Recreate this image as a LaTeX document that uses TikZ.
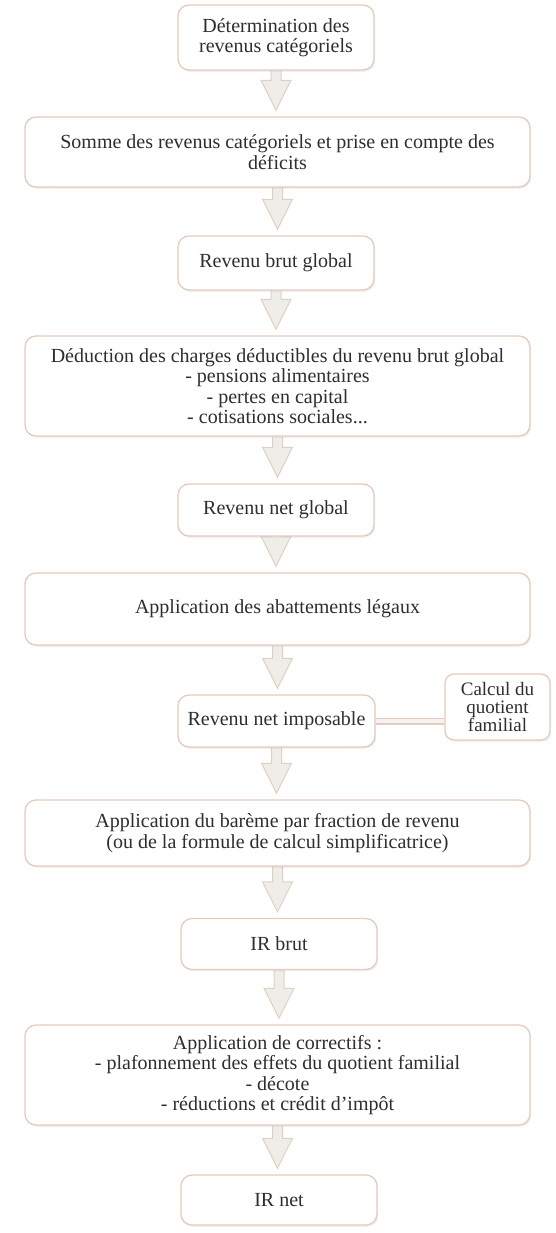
\documentclass[tikz,border=0pt]{standalone}
\usepackage{fontspec}
\setmainfont{Liberation Serif}
\usetikzlibrary{calc,backgrounds,shadows}
\definecolor{boxline}{HTML}{E3CBBE}
\definecolor{arrfill}{HTML}{EEEDE8}
\definecolor{arrline}{HTML}{E0D0C4}
\definecolor{linkfill}{HTML}{F6F2EF}
\definecolor{txt}{HTML}{2E2E2E}
\tikzset{
  flowbox/.style={draw=boxline, line width=1.3pt, rounded corners=11pt, fill=white,
    align=center, text=txt, font=\fontsize{20}{20.5}\selectfont, inner sep=1pt,
    drop shadow={opacity=0.12, shadow xshift=1.2pt, shadow yshift=-1.8pt}},
  blockarr/.style={draw=arrline, fill=arrfill, line width=1pt, line join=miter},
  linkline/.style={draw=boxline, line width=1.5pt, double=linkfill, double distance=4pt}
}
\newcommand\flowarrow[2]{%
  \draw[blockarr] let \p1=(#1.south), \p2=(#2.north) in
    (\x1-5pt,\y1) -- (\x1-5pt,\y2+36pt) -- (\x1-15pt,\y2+36pt) -- (\x1,\y2+6pt)
    -- (\x1+15pt,\y2+36pt) -- (\x1+5pt,\y2+36pt) -- (\x1+5pt,\y1);}
\begin{document}
\begin{tikzpicture}[x=1pt,y=-1pt]
\useasboundingbox (0,0) rectangle (556,1233);
\node[flowbox, minimum width=196pt, minimum height=65pt] (b1) at (276,37.5) {Détermination des\\revenus catégoriels};
\node[flowbox, minimum width=505pt, minimum height=70pt] (b2) at (277.5,152) {Somme des revenus catégoriels et prise en compte des\\déficits};
\node[flowbox, minimum width=196pt, minimum height=54pt] (b3) at (276,263) {Revenu brut global};
\node[flowbox, minimum width=505pt, minimum height=100pt] (b4) at (277.5,386) {Déduction des charges déductibles du revenu brut global\\- pensions alimentaires\\- pertes en capital\\- cotisations sociales...};
\node[flowbox, minimum width=196pt, minimum height=52pt] (b5) at (276,510) {Revenu net global};
\node[flowbox, minimum width=505pt, minimum height=72pt] (b6) at (277.5,609) {Application des abattements légaux};
\node[flowbox, minimum width=197pt, minimum height=52pt] (b7) at (276.5,721) {Revenu net imposable};
\node[flowbox, minimum width=105pt, minimum height=66pt, rounded corners=9pt, font=\fontsize{19}{18}\selectfont] (side) at (497.5,707) {Calcul du\\quotient\\familial};
\node[flowbox, minimum width=505pt, minimum height=66pt] (b8) at (277.5,833) {Application du barème par fraction de revenu\\(ou de la formule de calcul simplificatrice)};
\node[flowbox, minimum width=196pt, minimum height=51pt] (b9) at (279,944) {IR brut};
\node[flowbox, minimum width=505pt, minimum height=100pt] (b10) at (277.5,1075) {Application de correctifs :\\- plafonnement des effets du quotient familial\\- décote\\- réductions et crédit d'impôt};
\node[flowbox, minimum width=196pt, minimum height=50pt] (b11) at (279,1200) {IR net};
\begin{scope}[on background layer]
\flowarrow{b1}{b2}
\flowarrow{b2}{b3}
\flowarrow{b3}{b4}
\flowarrow{b4}{b5}
\flowarrow{b5}{b6}
\flowarrow{b6}{b7}
\flowarrow{b7}{b8}
\flowarrow{b8}{b9}
\flowarrow{b9}{b10}
\flowarrow{b10}{b11}
\draw[linkline] (b7.east) -- (b7.east -| side.west);
\end{scope}
\end{tikzpicture}
\end{document}
